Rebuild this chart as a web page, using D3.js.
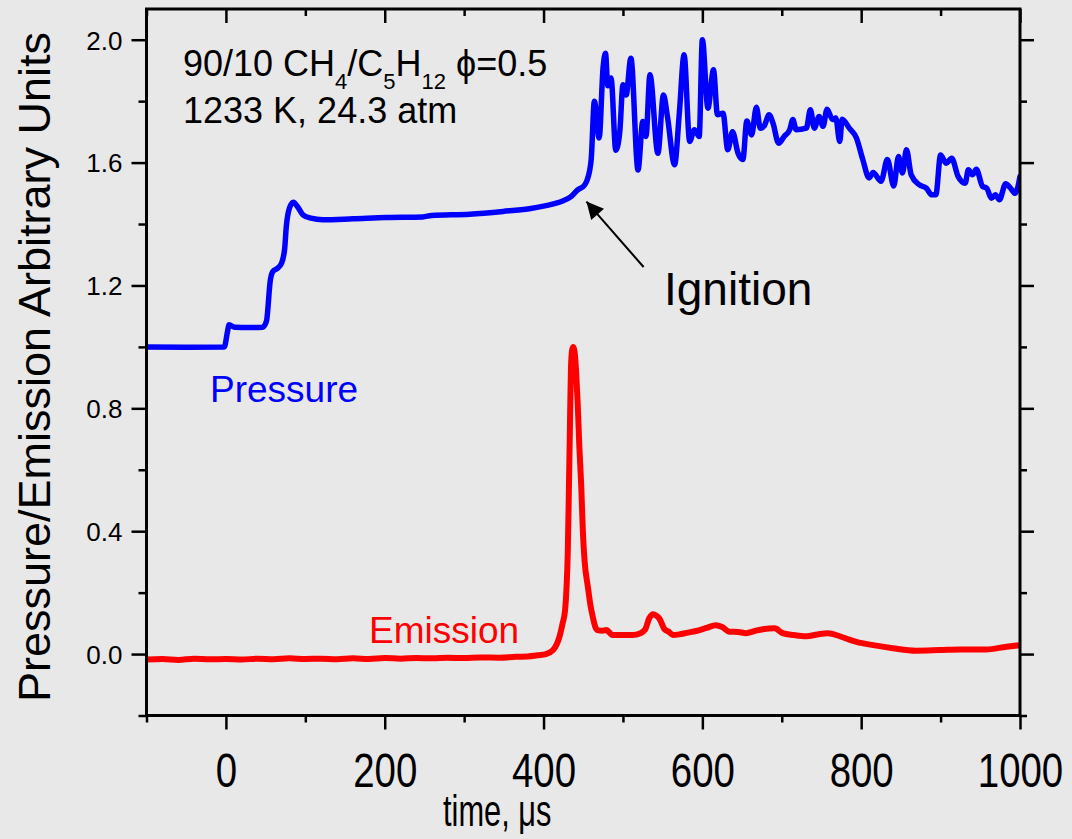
<!DOCTYPE html>
<html>
<head>
<meta charset="utf-8">
<script src="https://cdn.jsdelivr.net/npm/d3@7"></script>
<style>
  html, body { margin: 0; padding: 0; background: #e8e8e8; }
  svg { display: block; }
  text { font-family: "Liberation Sans", Arial, sans-serif; }
</style>
</head>
<body>
<svg id="chart" width="1072" height="839"></svg>
<script>
// Shock-tube trace: time (µs) vs normalized pressure and emission
const pressureTime = [-100,-50,-2,2,4,11,30,46,51,56,59,65,70,74,76,80,85,90,97,107,122,160,202,248,259,307,349,382,403,424,435,443,452,455,460,464,470,475,478,481,485,491,496,500,504,510,519,525,529,534,544,551,556,565,571,577,584,590,596,600,607,614,619,626,632,638,645,651,656,662,668,673,678,684,689,696,703,710,714,718,731,736,741,747,752,757,764,768,773,776,785,794,802,810,815,825,833,841,847,852,857,863,873,882,889,894,900,907,914,922,931,935,940,945,953,958,964,969,974,982,988,994,1000];
const pressureValue = [1.0,0.999,1.0,1.05,1.072,1.064,1.063,1.064,1.083,1.218,1.245,1.256,1.272,1.32,1.39,1.452,1.471,1.457,1.43,1.419,1.414,1.417,1.421,1.423,1.428,1.432,1.441,1.45,1.46,1.475,1.49,1.511,1.528,1.544,1.61,1.80,1.68,1.91,1.956,1.85,1.875,1.64,1.70,1.853,1.82,1.94,1.576,1.734,1.685,1.886,1.63,1.82,1.75,1.593,1.761,1.951,1.669,1.707,1.685,2.0,1.777,1.902,1.756,1.761,1.642,1.70,1.63,1.61,1.735,1.69,1.78,1.712,1.72,1.756,1.728,1.663,1.685,1.707,1.74,1.707,1.712,1.772,1.712,1.75,1.718,1.774,1.74,1.745,1.669,1.741,1.712,1.68,1.61,1.55,1.568,1.539,1.61,1.524,1.62,1.566,1.642,1.56,1.528,1.517,1.495,1.495,1.625,1.598,1.614,1.555,1.533,1.577,1.56,1.578,1.522,1.517,1.484,1.495,1.479,1.531,1.517,1.50,1.555];

const emissionTime = [-100,-80,-60,-40,-20,0,20,40,60,80,100,120,140,160,180,200,220,240,260,280,300,320,345,365,380,393,403,412,420,424,427,429,430.5,432,433,434.5,436,437.5,439,441,443,445,447.5,449.5,451.6,455.8,459,462,465,468,474,479,487,500,512,522,528,533,538,542,546,552,558,563,571,580,592,605,617,625,634,645,655,666,676,691,701,715,731,745,758,773,785,794,815,840,869,899,924,957,983,1000];
const emissionValue = [-0.018,-0.016,-0.019,-0.015,-0.017,-0.016,-0.018,-0.015,-0.017,-0.014,-0.016,-0.015,-0.017,-0.014,-0.016,-0.013,-0.015,-0.013,-0.014,-0.012,-0.013,-0.011,-0.012,-0.009,-0.008,-0.004,0.0,0.013,0.056,0.10,0.14,0.22,0.33,0.55,0.70,0.93,0.99,1.0,0.985,0.92,0.817,0.68,0.545,0.40,0.306,0.219,0.16,0.121,0.09,0.078,0.076,0.078,0.062,0.062,0.062,0.068,0.08,0.116,0.13,0.125,0.115,0.082,0.072,0.062,0.064,0.069,0.075,0.085,0.094,0.088,0.073,0.072,0.068,0.075,0.081,0.084,0.068,0.062,0.058,0.064,0.068,0.058,0.047,0.04,0.029,0.019,0.011,0.013,0.015,0.015,0.024,0.029];

const xMajorTicks = [0,200,400,600,800,1000];
const xMinorTicks = [-100,100,300,500,700,900];
const yMajorTicks = [0.0,0.4,0.8,1.2,1.6,2.0];
const yMinorTicks = [-0.2,0.2,0.6,1.0,1.4,1.8];

const svg = d3.select("#chart");
const W = 1072, H = 839;
svg.append("rect").attr("width", W).attr("height", H).attr("fill", "#e8e8e8");

const plot = { left: 146.5, right: 1020, top: 9, bottom: 715.5 };
const x = d3.scaleLinear().domain([-100, 1000]).range([plot.left, plot.right]);
const y = d3.scaleLinear().domain([-0.2, 2.1]).range([plot.bottom, plot.top]);

const pressure = pressureTime.map((t, i) => [t, pressureValue[i]]);
const emission = emissionTime.map((t, i) => [t, emissionValue[i]]);

const line = d3.line().x(d => x(d[0])).y(d => y(d[1])).curve(d3.curveMonotoneX);

svg.append("clipPath").attr("id", "clip").append("rect")
  .attr("x", plot.left).attr("y", plot.top)
  .attr("width", plot.right - plot.left).attr("height", plot.bottom - plot.top);

const traces = svg.append("g").attr("clip-path", "url(#clip)");
traces.append("path").datum(emission).attr("d", line)
  .attr("fill", "none").attr("stroke", "#ff0000").attr("stroke-width", 6)
  .attr("stroke-linejoin", "round").attr("stroke-linecap", "round");
traces.append("path").datum(pressure).attr("d", line)
  .attr("fill", "none").attr("stroke", "#0000ff").attr("stroke-width", 5.5)
  .attr("stroke-linejoin", "round").attr("stroke-linecap", "round");

// Axes: outward ticks on bottom/left, inward mirror ticks on top/right
const axisStyle = g => {
  g.select(".domain").remove();
  g.selectAll(".tick line").attr("stroke", "#000").attr("stroke-width", 2.5);
};
const bottomMajor = d3.axisBottom(x).tickValues(xMajorTicks).tickSize(14).tickFormat(d3.format("d"));
const bottomMinor = d3.axisBottom(x).tickValues(xMinorTicks).tickSize(7).tickFormat("");
const topMajor = d3.axisBottom(x).tickValues(xMajorTicks).tickSize(14).tickFormat("");
const topMinor = d3.axisBottom(x).tickValues(xMinorTicks).tickSize(7).tickFormat("");
const leftMajor = d3.axisLeft(y).tickValues(yMajorTicks).tickSize(15).tickFormat(d3.format(".1f"));
const leftMinor = d3.axisLeft(y).tickValues(yMinorTicks).tickSize(8).tickFormat("");
const rightMajor = d3.axisLeft(y).tickValues(yMajorTicks).tickSize(14).tickFormat("");
const rightMinor = d3.axisLeft(y).tickValues(yMinorTicks).tickSize(7).tickFormat("");

const gb = svg.append("g").attr("transform", `translate(0,${plot.bottom})`).call(bottomMajor).call(axisStyle);
svg.append("g").attr("transform", `translate(0,${plot.bottom})`).call(bottomMinor).call(axisStyle);
svg.append("g").attr("transform", `translate(0,${plot.top})`).call(topMajor).call(axisStyle);
svg.append("g").attr("transform", `translate(0,${plot.top})`).call(topMinor).call(axisStyle);
const gl = svg.append("g").attr("transform", `translate(${plot.left},0)`).call(leftMajor).call(axisStyle);
svg.append("g").attr("transform", `translate(${plot.left},0)`).call(leftMinor).call(axisStyle);
svg.append("g").attr("transform", `translate(${plot.right + 14},0)`).call(rightMajor).call(axisStyle);
svg.append("g").attr("transform", `translate(${plot.right + 7},0)`).call(rightMinor).call(axisStyle);

// narrow, tall numerals under the time axis
gb.selectAll(".tick text").attr("font-size", 48).attr("fill", "#000")
  .attr("font-family", '"Liberation Sans", Arial, sans-serif')
  .attr("y", 0).attr("dy", null).attr("transform", "translate(0,71) scale(0.8,1)");
gl.selectAll(".tick text").attr("font-size", 26).attr("fill", "#000")
  .attr("font-family", '"Liberation Sans", Arial, sans-serif')
  .attr("x", -24).attr("dy", "0.36em");

// frame
svg.append("rect")
  .attr("x", plot.left).attr("y", plot.top)
  .attr("width", plot.right - plot.left).attr("height", plot.bottom - plot.top)
  .attr("fill", "none").attr("stroke", "#000").attr("stroke-width", 3);

// axis titles
svg.append("text")
  .attr("transform", "translate(50,367) rotate(-90)")
  .attr("text-anchor", "middle").attr("font-size", 45).attr("fill", "#000")
  .text("Pressure/Emission Arbitrary Units");
svg.append("text").attr("transform", "translate(443,826) scale(0.7,1)")
  .attr("font-size", 44).attr("fill", "#000")
  .text("time, μs");

// condition annotation
const a1 = svg.append("text").attr("x", 183).attr("y", 76).attr("font-size", 36).attr("fill", "#000");
a1.append("tspan").text("90/10 CH");
a1.append("tspan").attr("font-size", 22).attr("dy", 13).text("4");
a1.append("tspan").attr("dy", -13).text("/C");
a1.append("tspan").attr("font-size", 22).attr("dy", 13).text("5");
a1.append("tspan").attr("dy", -13).text("H");
a1.append("tspan").attr("font-size", 22).attr("dy", 13).text("12");
a1.append("tspan").attr("dy", -13).text(" ϕ=0.5");
svg.append("text").attr("x", 183).attr("y", 123).attr("font-size", 36).attr("fill", "#000")
  .text("1233 K, 24.3 atm");

// series labels
svg.append("text").attr("x", 210).attr("y", 402).attr("font-size", 37).attr("fill", "#0000ff").text("Pressure");
svg.append("text").attr("x", 369).attr("y", 643).attr("font-size", 37).attr("fill", "#ff0000").text("Emission");

// ignition marker
const tip = [454, 1.473], tail = [526, 1.26];
svg.append("defs").append("marker")
  .attr("id", "arrowhead").attr("viewBox", "0 0 10 10")
  .attr("refX", 10).attr("refY", 5)
  .attr("markerWidth", 22).attr("markerHeight", 17)
  .attr("markerUnits", "userSpaceOnUse")
  .attr("orient", "auto")
  .append("path").attr("d", "M0,0 L10,5 L0,10 Z").attr("fill", "#000");
svg.append("line")
  .attr("x1", x(tail[0])).attr("y1", y(tail[1]))
  .attr("x2", x(tip[0])).attr("y2", y(tip[1]))
  .attr("stroke", "#000").attr("stroke-width", 2)
  .attr("marker-end", "url(#arrowhead)");
svg.append("text").attr("x", 664).attr("y", 305).attr("font-size", 46).attr("fill", "#000").text("Ignition");
</script>
</body>
</html>
